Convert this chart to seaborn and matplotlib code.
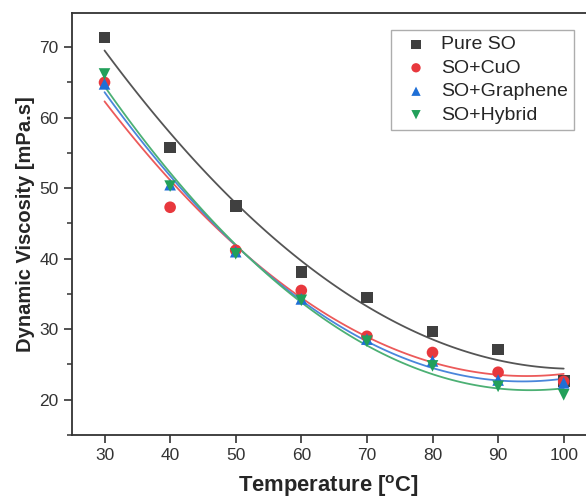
import numpy as np
import pandas as pd
import matplotlib
matplotlib.use("Agg")
import matplotlib.pyplot as plt
from matplotlib.ticker import MultipleLocator
import seaborn as sns

temperature = [30, 40, 50, 60, 70, 80, 90, 100]
pure_so = [71.4, 55.8, 47.5, 38.1, 34.5, 29.7, 27.1, 22.7]
so_cuo = [65.0, 47.3, 41.2, 35.5, 29.0, 26.7, 23.9, 22.6]
so_graphene = [64.8, 50.5, 41.0, 34.3, 28.6, 25.5, 22.8, 22.4]
so_hybrid = [66.2, 50.3, 40.7, 34.1, 28.3, 24.8, 21.9, 20.7]

series = [
    ("Pure SO", pure_so, "s", "#404040", "#555555"),
    ("SO+CuO", so_cuo, "o", "#e8383d", "#ec5a5a"),
    ("SO+Graphene", so_graphene, "^", "#1f6fd6", "#4a86db"),
    ("SO+Hybrid", so_hybrid, "v", "#22a05a", "#4cb074"),
]

sns.set_theme(style="ticks")
plt.rcParams["font.family"] = ["Liberation Sans", "DejaVu Sans"]
plt.rcParams["mathtext.fontset"] = "custom"
plt.rcParams["mathtext.rm"] = "Liberation Sans"
plt.rcParams["mathtext.bf"] = "Liberation Sans:bold"

fig = plt.figure(figsize=(5.86, 5.04), dpi=100)
ax = fig.add_axes([0.1224, 0.1369, 0.8776, 0.838])

for name, vals, mk, col, lcol in series:
    df = pd.DataFrame({"T": temperature, "V": vals})
    sns.regplot(data=df, x="T", y="V", order=2, ci=None, scatter=False,
                ax=ax, line_kws=dict(color=lcol, lw=1.3))
    sns.scatterplot(data=df, x="T", y="V", marker=mk, color=col, s=70,
                    edgecolor="none", ax=ax, label=name, zorder=3)

ax.set_xlim(25.0, 103.4)
ax.set_ylim(15, 74.9)
ax.set_xticks(temperature)
ax.set_yticks([20, 30, 40, 50, 60, 70])
ax.yaxis.set_minor_locator(MultipleLocator(5))
ax.tick_params(axis="both", which="major", labelsize=12.5, length=6, width=1.2,
               color="#333333", labelcolor="#333333", direction="out")
ax.tick_params(axis="y", which="minor", length=3.5, width=1.1, color="#333333")
ax.spines["right"].set_visible(False)
for side in ["left", "bottom", "top"]:
    ax.spines[side].set_linewidth(1.3)
    ax.spines[side].set_color("#333333")

ax.set_xlabel(r"Temperature [$\mathbf{^{o}}$C]", fontsize=15.8, fontweight="bold", labelpad=7)
ax.set_ylabel("Dynamic Viscosity [mPa.s]", fontsize=14.5, fontweight="bold", labelpad=3)

leg = ax.legend(loc="upper right", bbox_to_anchor=(574 / 586, 1 - 30 / 504),
                bbox_transform=fig.transFigure, borderaxespad=0, fontsize=14,
                frameon=True, fancybox=False, edgecolor="#999999",
                handlelength=2.0, handletextpad=0.3, borderpad=0.3,
                labelspacing=0.3, markerscale=0.8)
leg.get_frame().set_linewidth(1.0)

fig.savefig("out.png", dpi=100)
